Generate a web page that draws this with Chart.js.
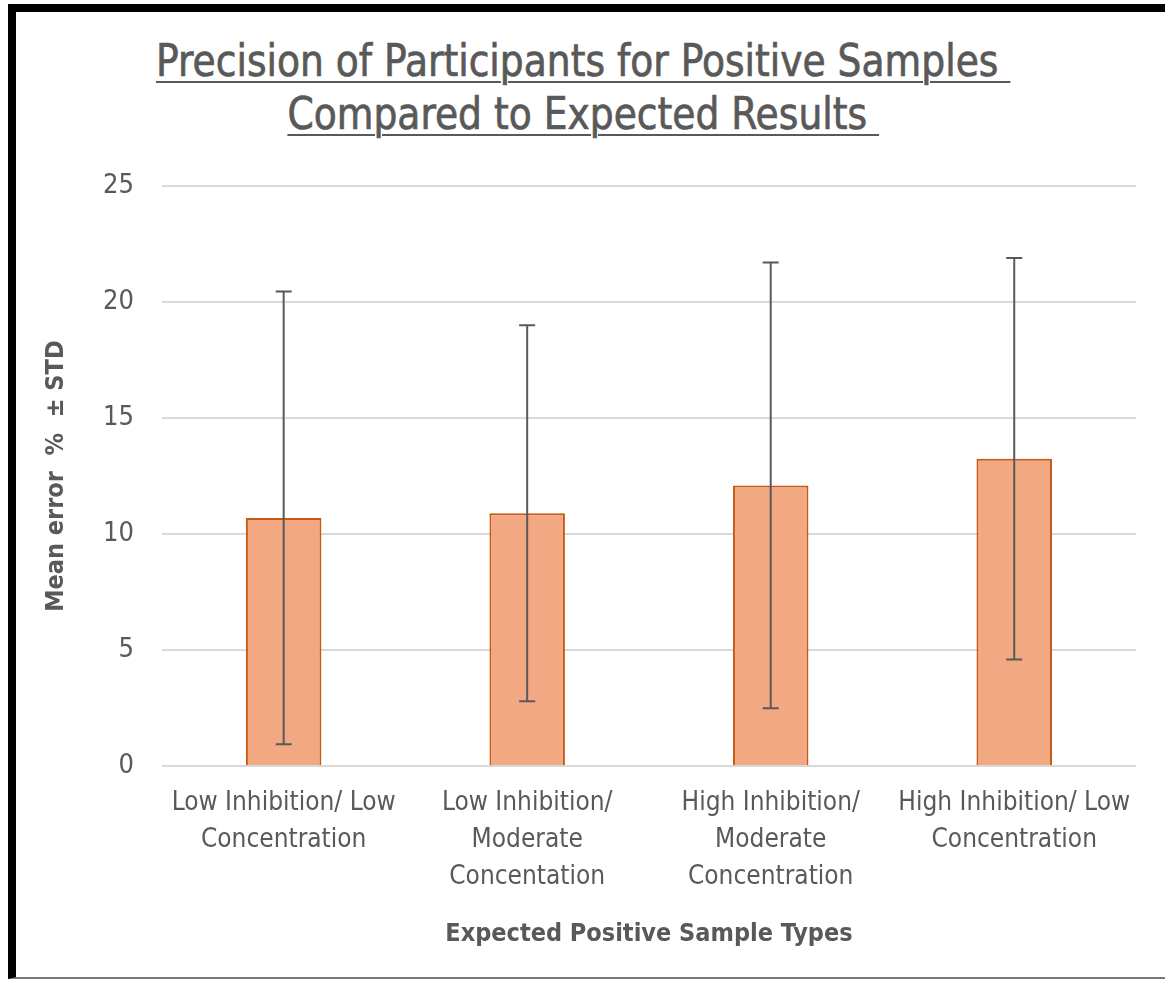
<!DOCTYPE html>
<html>
<head>
<meta charset="utf-8">
<script src="https://cdn.jsdelivr.net/npm/chart.js@4.4.1/dist/chart.umd.min.js"></script>
<style>
  html, body { margin: 0; padding: 0; background: #fff; }
  #wrap { position: relative; width: 1165px; height: 983px; overflow: hidden; }
  #frame {
    position: absolute; left: 8px; top: 4px; width: 1170px; height: 975px;
    border-top: 8px solid #000; border-left: 8px solid #000; border-bottom: 2px solid #777;
    box-sizing: border-box;
  }
  #title {
    position: absolute; left: 0; top: 34px; width: 1165px; text-align: center;
    font-family: "Liberation Sans Narrow", "DejaVu Sans Condensed", sans-serif;
    font-size: 45px; line-height: 53px; color: #595959; font-weight: normal;
    -webkit-text-stroke: 0.7px #595959;
    transform: scaleX(0.93); transform-origin: 593px 0;
  }
  #title span { text-decoration: underline; text-decoration-thickness: 2px; text-underline-offset: 5px; white-space: pre; }
  #c { position: absolute; left: 0; top: 0; }
</style>
</head>
<body>
<div id="wrap">
  <div id="frame"></div>
  <div id="title"><span>Precision of Participants for Positive Samples </span><br><span>Compared to Expected Results </span></div>
  <canvas id="c" width="1165" height="983"></canvas>
</div>
<script>
// ============ DATA ============
const categorias = [
  ['Low Inhibition/ Low', 'Concentration'],
  ['Low Inhibition/', 'Moderate', 'Concentation'],
  ['High Inhibition/', 'Moderate', 'Concentration'],
  ['High Inhibition/ Low', 'Concentration'],
];
const media = [10.7, 10.9, 12.1, 13.25];
const desvio = [9.75, 8.1, 9.6, 8.65];
const ticksY = [0, 5, 10, 15, 20, 25];

const FUENTE = '"Liberation Sans Narrow", "DejaVu Sans Condensed", sans-serif';
const GRIS = '#595959';

// barras de error (media ± desvío) dibujadas sobre cada barra
const barrasError = {
  id: 'barrasError',
  afterDatasetsDraw(chart) {
    const { ctx, scales: { y } } = chart;
    const meta = chart.getDatasetMeta(0);
    ctx.save();
    ctx.strokeStyle = GRIS;
    ctx.lineWidth = 2;
    meta.data.forEach((bar, i) => {
      const x = bar.x;
      const yTop = y.getPixelForValue(media[i] + desvio[i]);
      const yBot = y.getPixelForValue(media[i] - desvio[i]);
      ctx.beginPath();
      ctx.moveTo(x, yTop); ctx.lineTo(x, yBot);
      ctx.moveTo(x - 8, yTop); ctx.lineTo(x + 8, yTop);
      ctx.moveTo(x - 8, yBot); ctx.lineTo(x + 8, yBot);
      ctx.stroke();
    });
    ctx.restore();
  },
};

new Chart(document.getElementById('c'), {
  type: 'bar',
  data: {
    labels: categorias,
    datasets: [{
      data: media,
      backgroundColor: '#F2A983',
      borderColor: '#C55A11',
      borderWidth: 2,
      borderSkipped: 'bottom',
      barPercentage: 0.31,
      categoryPercentage: 1,
    }],
  },
  options: {
    responsive: false,
    animation: false,
    layout: { padding: { top: 186, right: 29, left: 37, bottom: 30 } },
    plugins: { legend: { display: false }, tooltip: { enabled: false } },
    scales: {
      x: {
        grid: { display: false },
        border: { display: false },
        ticks: { color: GRIS, font: { family: FUENTE, size: 26, lineHeight: 1.42 }, padding: 11, maxRotation: 0, autoSkip: false },
        title: { display: true, text: 'Expected Positive Sample Types', color: GRIS, font: { family: FUENTE, size: 25, weight: 'bold' }, padding: { top: 12 } },
      },
      y: {
        min: 0, max: 25,
        afterBuildTicks: (s) => { s.ticks = ticksY.map(v => ({ value: v })); },
        grid: { color: '#D9D9D9', lineWidth: 2, drawTicks: false },
        border: { display: false },
        ticks: { color: GRIS, font: { family: FUENTE, size: 27 }, padding: 28 },
        title: { display: true, text: 'Mean error  %  ± STD', color: GRIS, font: { family: FUENTE, size: 25, weight: 'bold' }, padding: { bottom: 4 } },
      },
    },
  },
  plugins: [barrasError],
});
</script>
</body>
</html>
